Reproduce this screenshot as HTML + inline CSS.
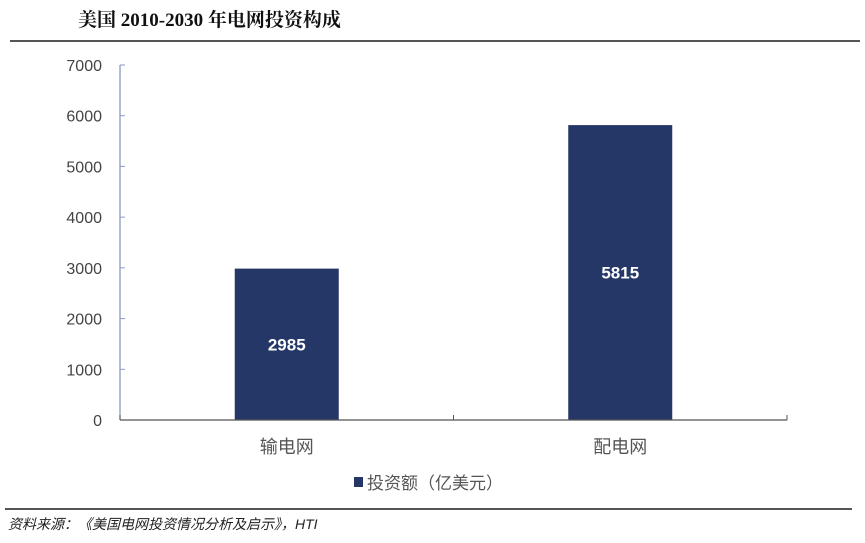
<!DOCTYPE html>
<html><head><meta charset="utf-8"><style>
body{margin:0;background:#fff;width:865px;height:538px;overflow:hidden;font-family:"Liberation Sans","Noto Sans CJK SC",sans-serif}
</style></head><body>
<svg width="865" height="538" xmlns="http://www.w3.org/2000/svg" font-family="Liberation Sans, Noto Sans CJK SC, sans-serif">
<text x="78" y="26" font-size="19" font-weight="bold" font-family="Liberation Serif, Noto Serif CJK SC, serif" fill="#111">美国 2010-2030 年电网投资构成</text>
<line x1="10" y1="41" x2="860" y2="41" stroke="#555" stroke-width="2"/>
<g id="chart"></g>
<rect x="354" y="477" width="9" height="10" fill="#253766"/>
<text x="367" y="489" font-size="17" fill="#555">投资额（亿美元）</text>
<line x1="5" y1="509" x2="852" y2="509" stroke="#555" stroke-width="2"/>
<text x="8" y="529" font-size="14" font-style="italic" fill="#222">资料来源：《美国电网投资情况分析及启示》，HTI</text>
</svg>
<script>
const categories=["输电网","配电网"];
const values=[2985,5815];
const ticks=[0,1000,2000,3000,4000,5000,6000,7000];
const NS="http://www.w3.org/2000/svg";
const g=document.getElementById("chart");
const x0=120,x1=787,yb=420,yt=65,ymax=7000;
const y=v=>yb-(v/ymax)*(yb-yt);
const cw=(x1-x0)/categories.length;
function el(t,a,txt){const e=document.createElementNS(NS,t);for(const k in a)e.setAttribute(k,a[k]);if(txt!=null)e.textContent=txt;g.appendChild(e);return e;}
const ax=el("line",{x1:x0,y1:yt,x2:x0,y2:yb,stroke:"#8a9ac0","stroke-width":1.3});


ticks.forEach(t=>{
 const tl=el("line",{x1:x0,y1:y(t),x2:x0+5,y2:y(t),stroke:"#8a9ac0"});
 
 
 const tx=el("text",{x:102,y:y(t)+6,"font-size":16,"text-anchor":"end",fill:"#444"},t);
 
 
});
categories.forEach((c,i)=>{
 const cx=x0+cw*(i+0.5),bw=104;
 const b=el("rect",{x:cx-bw/2,y:y(values[i]),width:bw,height:yb-y(values[i]),fill:"#253766"});
 
 
 const v=el("text",{x:cx,y:(y(values[i])+yb)/2+6,"font-size":17,"font-weight":"bold","text-anchor":"middle",fill:"#fff"},values[i]);
 
 
 const l=el("text",{x:cx,y:453,"font-size":18,"text-anchor":"middle",fill:"#555"},c);
 
 
});
for(let i=0;i<=categories.length;i++){
 const tk=el("line",{x1:x0+cw*i,y1:yb,x2:x0+cw*i,y2:yb-5,stroke:"#555"});
 
 
}
const xa=el("line",{x1:x0,y1:yb,x2:x1,y2:yb,stroke:"#555","stroke-width":1.3});


</script>
</body></html>
